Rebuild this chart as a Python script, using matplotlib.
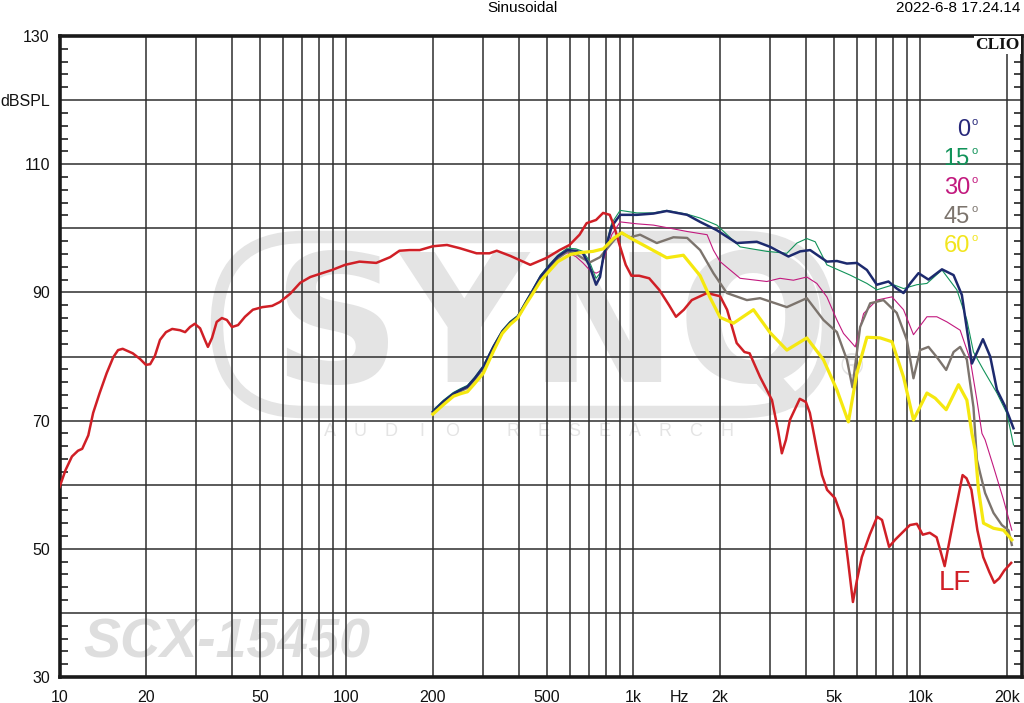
import matplotlib
matplotlib.use("Agg")
import matplotlib.pyplot as plt
from matplotlib.patches import FancyBboxPatch
from matplotlib.ticker import FixedLocator, MultipleLocator

plt.rcParams['font.family'] = ['Liberation Sans', 'DejaVu Sans']

# ----------------------
# data (Hz, dBSPL)
# ----------------------
freq_lf = [10, 10.5, 11.05, 11.6, 12.0, 12.6, 13.1, 13.8, 14.6, 15.4,
           16.0, 16.6, 18.0, 19.1, 20.0, 20.7, 21.5, 22.4, 23.5, 24.7,
           26.3, 27.4, 28.5, 29.6, 30.9, 32.1, 32.9, 34.0, 35.3, 36.8,
           38.3, 39.9, 41.9, 44.3, 47.2, 50.9, 55.1, 58.6, 63.7, 69.0,
           74.8, 80.9, 89.1, 98.9, 111, 127, 142, 153, 166, 180,
           200, 224, 248, 284, 315, 334, 372, 437, 499, 553,
           599, 649, 687, 741, 784, 827, 854, 899, 940, 984,
           1047, 1135, 1230, 1331, 1407, 1499, 1597, 1806, 2005, 2120,
           2290, 2437, 2540, 2763, 3040, 3190, 3290, 3400, 3510, 3800,
           3990, 4120, 4360, 4540, 4730, 5040, 5370, 5590, 5820, 6010,
           6250, 6660, 7070, 7350, 7780, 8160, 9190, 9720, 10190, 10780,
           11390, 11860, 12150, 12650, 13160, 14030, 14480, 15060, 15800, 16560,
           17380, 18090, 18830, 19600, 20720]
db_lf = [59.6, 62.3, 64.4, 65.3, 65.6, 67.7, 71.2, 74.3, 77.4, 79.9,
         81.0, 81.2, 80.5, 79.6, 78.7, 78.8, 80.1, 82.6, 83.8, 84.3,
         84.1, 83.8, 84.6, 85.1, 84.4, 82.6, 81.5, 82.9, 85.4, 86.0,
         85.7, 84.6, 84.9, 86.2, 87.3, 87.7, 87.9, 88.5, 89.8, 91.5,
         92.4, 92.9, 93.5, 94.3, 94.8, 94.6, 95.5, 96.5, 96.6, 96.6,
         97.2, 97.4, 96.9, 96.1, 96.1, 96.5, 95.7, 94.3, 95.4, 96.6,
         97.4, 99.0, 100.8, 101.3, 102.4, 102.1, 100.5, 97.1, 94.3, 92.6,
         92.6, 92.2, 90.4, 88.0, 86.2, 87.3, 88.8, 89.9, 89.4, 87.3,
         82.1, 80.7, 80.5, 76.8, 73.2, 68.5, 64.9, 67.0, 70.1, 73.4,
         72.9, 71.2, 65.4, 61.5, 59.2, 57.9, 54.5, 48.3, 41.7, 45.1,
         48.7, 52.2, 55.0, 54.5, 50.3, 51.4, 53.7, 53.9, 52.2, 52.5,
         51.8, 49.0, 47.3, 51.4, 55.3, 61.5, 61.0, 59.2, 52.9, 48.7,
         46.4, 44.7, 45.4, 46.6, 47.8]

freq_0 = [200, 218, 236, 250, 264, 280, 300, 325, 349, 372,
          395, 420, 447, 475, 506, 545, 588, 630, 667, 700,
          720, 741, 765, 786, 840, 899, 1028, 1174, 1307, 1539,
          1708, 1953, 2291, 2692, 2996, 3470, 3811, 4130, 4722, 5117,
          5545, 6006, 6510, 7050, 7740, 8272, 8735, 9214, 9850, 10670,
          11890, 13050, 13950, 15120, 15520, 16520, 17510, 18480, 19750, 21110]
db_0 = [71.4, 73.0, 74.2, 74.8, 75.3, 76.6, 78.4, 81.5, 83.9, 85.3,
        86.2, 88.3, 90.4, 92.5, 94.0, 95.6, 96.6, 96.5, 96.1, 94.3,
        92.8, 91.2, 92.4, 95.6, 100.3, 102.1, 102.1, 102.3, 102.7, 102.1,
        101.0, 99.7, 97.7, 97.9, 97.1, 95.6, 96.4, 96.6, 94.8, 94.9,
        94.5, 94.6, 93.5, 91.2, 91.7, 90.6, 89.9, 91.4, 93.0, 92.0,
        93.6, 92.7, 89.6, 78.9, 80.0, 82.7, 80.0, 74.8, 72.2, 68.8]

freq_15 = [200, 218, 236, 250, 264, 280, 300, 325, 349, 372,
           395, 420, 447, 475, 506, 545, 588, 630, 667, 700,
           741, 765, 786, 840, 899, 1028, 1174, 1307, 1539, 1708,
           1953, 2354, 2917, 3425, 3713, 4020, 4300, 4722, 5690, 6510,
           7050, 8055, 8735, 9720, 10540, 11890, 13400, 14520, 15310, 16590,
           18480, 20040, 21110]
db_15 = [71.6, 73.2, 74.4, 75.0, 75.5, 76.8, 78.6, 81.7, 84.1, 85.5,
         86.4, 88.5, 90.6, 92.7, 94.2, 95.8, 96.9, 96.8, 96.4, 95.0,
         92.2, 93.0, 95.8, 100.8, 102.8, 102.4, 102.4, 102.8, 102.2, 101.6,
         100.5, 97.1, 96.4, 96.1, 97.7, 98.4, 97.9, 94.3, 92.7, 91.4,
         90.4, 91.2, 90.6, 91.2, 91.4, 93.5, 90.4, 85.7, 80.7, 77.9,
         74.3, 71.1, 66.2]

freq_30 = [200, 218, 236, 250, 264, 280, 300, 325, 349, 372,
           395, 420, 447, 475, 506, 545, 588, 630, 667, 700,
           741, 765, 786, 840, 899, 1028, 1174, 1539, 1806, 1900,
           2005, 2354, 2917, 3243, 3610, 4020, 4356, 4722, 5117, 5395,
           5930, 6340, 7050, 7960, 8735, 9460, 10540, 11410, 12370, 13760,
           14920, 15740, 16390, 16810, 17980, 19500, 20830]
db_30 = [71.4, 73.0, 74.2, 74.8, 75.3, 76.6, 78.4, 81.5, 83.9, 85.3,
         86.2, 88.3, 90.4, 92.5, 94.0, 95.4, 96.2, 95.6, 94.6, 93.6,
         93.0, 93.3, 95.0, 99.0, 101.0, 100.7, 100.5, 99.5, 99.0, 96.6,
         94.8, 92.2, 91.7, 92.2, 91.9, 92.4, 91.4, 89.3, 85.7, 83.6,
         81.5, 86.7, 88.8, 89.3, 87.3, 83.4, 86.2, 86.2, 85.4, 84.1,
         79.5, 73.2, 68.0, 67.0, 62.8, 57.6, 52.9]

freq_45 = [200, 218, 236, 250, 264, 280, 300, 325, 349, 372,
           395, 420, 447, 475, 506, 545, 588, 630, 667, 706,
           765, 840, 899, 974, 1055, 1206, 1378, 1539, 1708, 1900,
           2116, 2485, 2764, 3425, 4020, 4593, 5117, 5545, 5796, 6166,
           6683, 7435, 8272, 8970, 9460, 9980, 10670, 11410, 12300, 13050,
           13760, 14520, 15310, 15740, 16150, 16810, 17980, 19230, 20280, 20830]
db_45 = [71.2, 72.8, 74.0, 74.6, 75.1, 76.4, 78.2, 81.3, 83.7, 85.1,
         86.0, 88.1, 90.2, 92.3, 93.8, 95.3, 96.4, 96.0, 95.3, 94.7,
         95.5, 97.7, 99.3, 98.6, 99.0, 97.7, 98.6, 98.5, 96.6, 93.0,
         89.9, 88.8, 89.1, 87.7, 89.1, 85.7, 83.8, 79.5, 75.2, 84.6,
         88.3, 88.8, 86.8, 82.6, 76.6, 81.0, 81.5, 79.9, 77.9, 80.7,
         81.5, 79.5, 72.1, 63.9, 61.8, 58.7, 55.6, 53.7, 52.9, 50.6]

freq_60 = [200, 218, 236, 250, 264, 280, 300, 325, 349, 372,
           395, 420, 447, 475, 506, 545, 602, 650, 723, 786,
           851, 911, 974, 1113, 1307, 1493, 1708, 1849, 2005, 2233,
           2620, 2996, 3425, 4020, 4593, 5117, 5613, 6006, 6510, 7245,
           7960, 8735, 9460, 10540, 11260, 12300, 13580, 14520, 15120, 15520,
           15940, 16590, 17980, 19500, 20830]
db_60 = [71.0, 72.5, 73.8, 74.2, 74.5, 75.8, 77.4, 80.8, 83.6, 85.0,
         86.0, 88.0, 89.9, 91.8, 93.2, 94.8, 95.9, 96.2, 96.4, 96.8,
         98.4, 99.3, 98.5, 97.1, 95.4, 95.8, 92.6, 89.2, 86.1, 85.2,
         87.3, 83.7, 81.0, 82.9, 79.5, 74.8, 69.8, 77.4, 83.0, 82.9,
         82.3, 76.8, 70.1, 74.3, 73.5, 71.7, 75.6, 73.2, 68.0, 65.4,
         59.2, 54.0, 53.2, 52.9, 51.4]

tick_freqs = [10, 20, 50, 100, 200, 500, 1000, 1443, 2000, 5000, 10000, 20000]
tick_names = ['10', '20', '50', '100', '200', '500', '1k', 'Hz', '2k', '5k', '10k', '20k']
db_ticks = [30, 40, 50, 60, 70, 80, 90, 100, 110, 120, 130]
db_names = ['30', '', '50', '', '70', '', '90', '', '110', 'dBSPL', '130']

angle_names = ['0', '15', '30', '45', '60']
angle_colors = ['#27287a', '#12935a', '#c2197e', '#7c746d', '#f2e51c']

RED = '#d01f26'
W, H = 1024, 703


def px(x, y):
    """pixel position in the 1024x703 picture -> inches for dpi_scale_trans"""
    return x / 100, (H - y) / 100


# ----------------------
# figure / axes
# ----------------------
fig = plt.figure(figsize=(10.24, 7.03), dpi=100)
ax = fig.add_axes([59.5 / W, (H - 677) / H, (1022 - 59.5) / W, (677 - 36) / H])
ax.set_xscale('log')
ax.set_xlim(10, 22600)
ax.set_ylim(30, 130)
inch = fig.dpi_scale_trans

# watermark (SYNQ logo + model name)
ring = FancyBboxPatch(px(217, 412), 6.11, 1.75, boxstyle="round,pad=0,rounding_size=0.87",
                      transform=inch, fill=False, ec='#e4e4e4', lw=9, zorder=0.2)
ax.add_patch(ring)
ax.text(*px(551, 332), 'SYNQ', transform=inch, fontsize=128, fontweight='bold',
        family='DejaVu Sans', color='#e4e4e4', ha='center', va='center', zorder=0.2)
for i, ch in enumerate('AUDIO RESEARCH'):
    ax.text(*px(330 + i * 30.5, 432), ch, transform=inch, fontsize=13,
            color='#e4e4e4', ha='center', va='center', zorder=0.2)
ax.text(*px(852, 368), '®', transform=inch, fontsize=22, color='#e4e4e4',
        ha='center', va='center', zorder=0.2)
ax.text(*px(227, 644), 'SCX-15450', transform=inch, fontsize=40, fontweight='bold',
        style='italic', color='#dedede', ha='center', va='center', zorder=0.2)

# grid
grid_x = [m * 10 ** d for d in (1, 2, 3) for m in range(1, 10)][1:] + [10000, 20000]
ax.xaxis.remove_overlapping_locs = False
ax.xaxis.set_major_locator(FixedLocator(tick_freqs))
ax.set_xticklabels(tick_names)
ax.xaxis.set_minor_locator(FixedLocator(grid_x))
ax.xaxis.set_minor_formatter(plt.NullFormatter())
ax.set_yticks(db_ticks)
ax.set_yticklabels(db_names)
ax.yaxis.set_minor_locator(MultipleLocator(2))
ax.grid(which='minor', axis='x', color='#2e2e2e', lw=1.1)
ax.grid(which='major', axis='y', color='#2e2e2e', lw=1.1)
ax.tick_params(axis='x', which='both', length=0, pad=9, labelsize=11.5, colors='#111')
ax.tick_params(axis='y', which='major', length=0, pad=7, labelsize=11.5, colors='#111')
ax.tick_params(axis='y', which='minor', direction='in', length=6, width=1.2,
               left=True, right=True, color='#222')
for s in ax.spines.values():
    s.set_linewidth(2.6)
    s.set_color('#1a1a1a')

# ----------------------
# curves
# ----------------------
ax.plot(freq_30, db_30, color=angle_colors[2], lw=0.8, zorder=3)
ax.plot(freq_15, db_15, color=angle_colors[1], lw=0.8, zorder=3)
ax.plot(freq_45, db_45, color=angle_colors[3], lw=1.7, zorder=4)
ax.plot(freq_0, db_0, color='#1d2a6e', lw=1.8, zorder=5)
ax.plot(freq_lf, db_lf, color=RED, lw=1.8, zorder=6)
ax.plot(freq_60, db_60, color='#f5e80f', lw=2.3, zorder=7)

# legend labels as in CLIO (number + tiny raised "o")
for i, (name, col) in enumerate(zip(angle_names, angle_colors)):
    ax.text(*px(970, 130 + i * 29), name, transform=inch,
            fontsize=17, color=col, ha='right', va='center', zorder=8)
    ax.text(*px(971, 122 + i * 29), 'o', transform=inch,
            fontsize=8, color=col, ha='left', va='center', zorder=8)
ax.text(*px(955, 583), 'LF', transform=inch, fontsize=20, color=RED,
        ha='center', va='center', zorder=8)
ax.text(*px(1020, 45), 'CLIO', transform=inch, fontsize=12.5, fontweight='bold',
        family='Liberation Serif', color='#111', ha='right', va='center', zorder=8,
        bbox=dict(facecolor='white', edgecolor='none', pad=1.0))

fig.text(*px(522, 8), 'Sinusoidal', transform=inch, fontsize=11, ha='center', va='center')
fig.text(*px(1020, 8), '2022-6-8 17.24.14', transform=inch, fontsize=11, ha='right', va='center')

fig.savefig('out.png', dpi=100, facecolor='white')
